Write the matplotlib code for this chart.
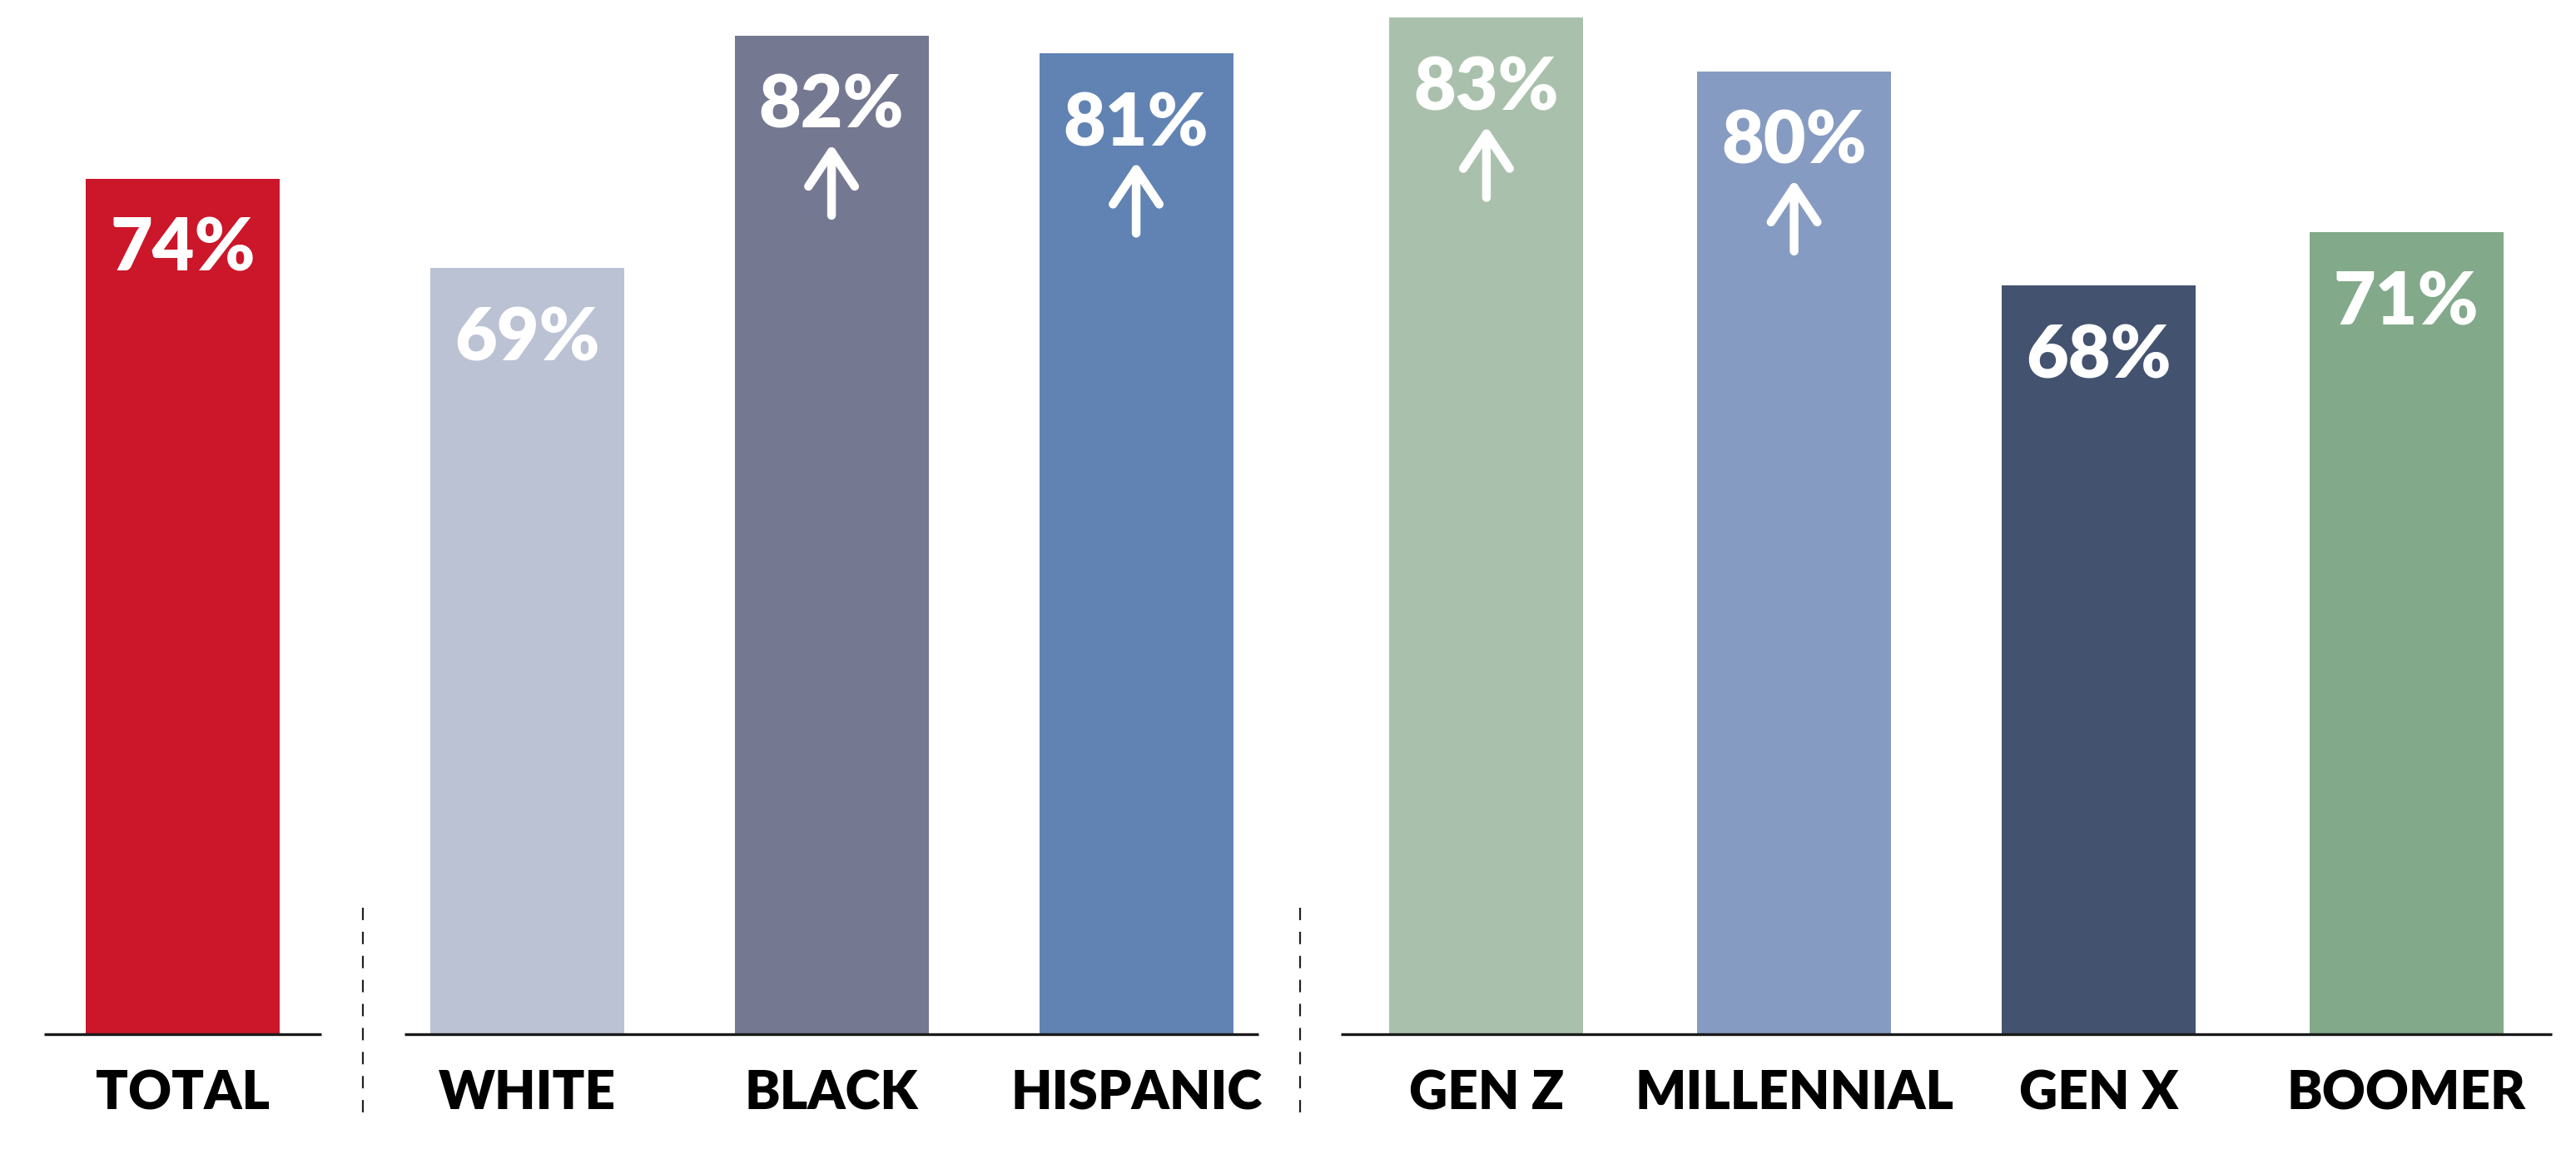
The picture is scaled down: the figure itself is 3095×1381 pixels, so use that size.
import matplotlib
matplotlib.use("Agg")
import matplotlib.pyplot as plt
from matplotlib.transforms import offset_copy

# data
categories = ["TOTAL", "WHITE", "BLACK", "HISPANIC", "GEN Z", "MILLENNIAL", "GEN X", "BOOMER"]
values = [74, 69, 82, 81, 83, 80, 68, 71]
labels = ["74%", "69%", "82%", "81%", "83%", "80%", "68%", "71%"]
rising = [False, False, True, True, True, True, False, False]  # up arrow under the label
groups = [[0], [1, 2, 3], [4, 5, 6, 7]]

colors = ["#CC1629", "#BBC2D4", "#747891", "#6183B3",
          "#A9C1AC", "#869BC1", "#43526F", "#82A98A"]

FONT = "Lato"
PX = 72 / 100  # points per pixel at dpi 100

# x layout: bars 1 unit apart inside a group, a wider gap between groups
positions = [0.0, 1.13, 2.13, 3.13, 4.28, 5.29, 6.29, 7.30]
bar_w = 0.637

fig = plt.figure(figsize=(30.95, 13.81), dpi=100)
ax = fig.add_axes([0, 138 / 1381, 1, 1243 / 1381])
ax.set_xlim(-0.600, 7.857)
ax.set_ylim(26.1, 84.0)
ax.axis("off")

ax.bar(positions, values, width=bar_w, color=colors, zorder=2)

# baselines per group
pads = [0.137, 0.084, 0.160]
for g, pad in zip(groups, pads):
    left = positions[g[0]] - bar_w / 2 - pad
    right = positions[g[-1]] + bar_w / 2 + pad
    ax.plot([left, right], [26.1, 26.1], color="#1a1a1a", lw=2.4,
            solid_capstyle="butt", clip_on=False, zorder=3)

# dashed separators between groups
for gi in range(1, len(groups)):
    prev_right = positions[groups[gi - 1][-1]] + bar_w / 2 + pads[gi - 1]
    next_left = positions[groups[gi][0]] - bar_w / 2 - pads[gi]
    xm = (prev_right + next_left) / 2
    ln, = ax.plot([xm, xm], [33.2, 21.6], color="#222222", lw=1.6, clip_on=False)
    ln.set_dashes((6.7, 6.3))

# value labels and arrows
for xp, v, lab, up in zip(positions, values, labels, rising):
    ax.text(xp, v, lab, ha="center", va="baseline", color="white",
            fontsize=63, fontweight="heavy", family=FONT,
            transform=offset_copy(ax.transData, fig=fig, y=-111 * PX, units="points"))
    if up:
        tip = offset_copy(ax.transData, fig=fig, y=-130 * PX, units="points")
        ax.annotate("", xy=(xp, v), xycoords=tip,
                    xytext=(0, -86 * PX), textcoords="offset points",
                    arrowprops=dict(arrowstyle="->,head_length=0.75,head_width=0.5",
                                    lw=7.5, color="white", mutation_scale=40,
                                    shrinkA=0, shrinkB=0))

# category labels
for xp, cat in zip(positions, categories):
    ax.text(xp, 26.1, cat, ha="center", va="baseline", color="black",
            fontsize=46, fontweight="heavy", family=FONT,
            transform=offset_copy(ax.transData, fig=fig, y=-90 * PX, units="points"))

fig.savefig("out.png", dpi=100, facecolor="white")
